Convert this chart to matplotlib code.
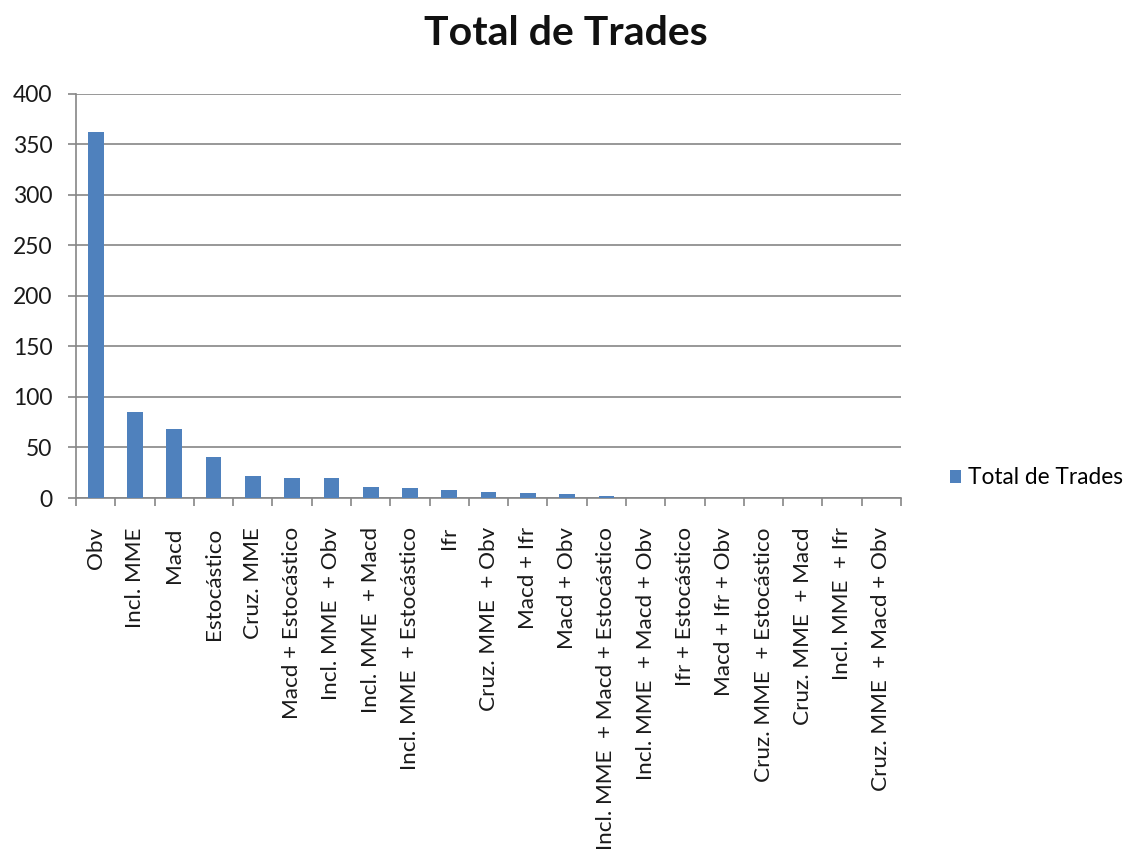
import matplotlib
matplotlib.use("Agg")
import matplotlib.pyplot as plt
import numpy as np
from matplotlib.ticker import FixedLocator

categories = [
    "Obv", "Incl. MME", "Macd", "Estocástico", "Cruz. MME",
    "Macd + Estocástico", "Incl. MME  + Obv", "Incl. MME  + Macd",
    "Incl. MME  + Estocástico", "Ifr", "Cruz. MME  + Obv", "Macd + Ifr",
    "Macd + Obv", "Incl. MME  + Macd + Estocástico", "Incl. MME  + Macd + Obv",
    "Ifr + Estocástico", "Macd + Ifr + Obv", "Cruz. MME  + Estocástico",
    "Cruz. MME  + Macd", "Incl. MME  + Ifr", "Cruz. MME  + Macd + Obv",
]
total_trades = [362, 85, 68, 41, 22, 20, 20, 11, 10, 8, 6, 5, 4, 2,
                0, 0, 0, 0, 0, 0, 0]
y_ticks = [0, 50, 100, 150, 200, 250, 300, 350, 400]

bar_color = "#4F81BD"
line_color = "#868686"
text_color = "#1a1a1a"

plt.rcParams["font.family"] = ["Lato", "DejaVu Sans"]

fig = plt.figure(figsize=(11.25, 8.61), dpi=100)
ax = fig.add_axes([0.0676, 0.4216, 0.7333, 0.4695])

x = np.arange(len(categories))
ax.bar(x, total_trades, width=0.4, color=bar_color, zorder=3,
       label="Total de Trades")

ax.set_xlim(-0.5, len(categories) - 0.5)
ax.set_ylim(0, 400)
ax.set_yticks(y_ticks)
ax.yaxis.grid(True, color=line_color, linewidth=1.2, zorder=0)

ax.set_xticks(x)
ax.set_xticklabels(categories, rotation=90, fontsize=16.2, color=text_color)
ax.xaxis.set_minor_locator(FixedLocator(np.arange(-0.5, len(categories), 1)))
ax.tick_params(axis="x", which="major", length=0, pad=21)
ax.tick_params(axis="x", which="minor", length=6, width=1.2, color=line_color,
               direction="out")
ax.tick_params(axis="y", length=6, width=1.2, color=line_color,
               labelsize=16.5, labelcolor=text_color, pad=11)

for side in ("top", "right"):
    ax.spines[side].set_visible(False)
for side in ("left", "bottom"):
    ax.spines[side].set_color(line_color)
    ax.spines[side].set_linewidth(1.2)

fig.text(0.503, 0.961, "Total de Trades", ha="center", va="center",
         fontsize=29.5, fontweight="bold", color="#111111")

fig.legend(loc="center left", bbox_to_anchor=(0.836, 0.445), frameon=False,
           fontsize=16.3, handlelength=0.5, handleheight=0.5,
           handletextpad=0.3, borderaxespad=0)

fig.savefig("out.png", dpi=100)
